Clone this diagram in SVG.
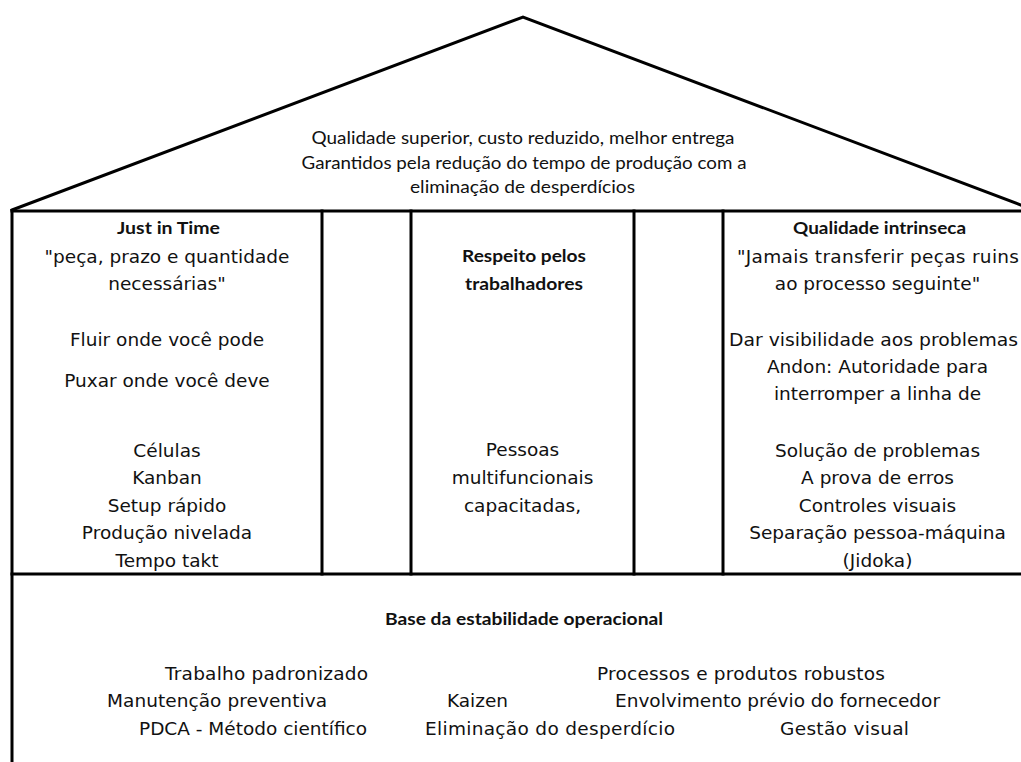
<svg xmlns="http://www.w3.org/2000/svg" width="1021" height="762" viewBox="0 0 1021 762">
<style>
.ln{stroke:#000;stroke-width:3;fill:none;stroke-linecap:square}
.t{font-family:"DejaVu Sans","Verdana",sans-serif;font-size:18.5px;fill:#111;text-anchor:middle}
.b{font-family:Lato,"Liberation Sans",sans-serif;font-size:17px;font-weight:bold;fill:#111;text-anchor:middle}
.r{font-family:Lato,"Liberation Sans",sans-serif;font-size:18px;fill:#111;text-anchor:middle}
.s{font-family:"DejaVu Sans","Verdana",sans-serif;font-size:18.5px;fill:#111}
</style>
<rect width="1021" height="762" fill="#fff"/>
<g id="roof">
<polyline class="ln" points="12,210 523,17 1034,210"/>
<text class="r" x="523" y="144" textLength="423" lengthAdjust="spacingAndGlyphs">Qualidade superior, custo reduzido, melhor entrega</text>
<text class="r" x="524" y="169" textLength="445" lengthAdjust="spacingAndGlyphs">Garantidos pela redução do tempo de produção com a</text>
<text class="r" x="522.5" y="193" textLength="225" lengthAdjust="spacingAndGlyphs">eliminação de desperdícios</text>
</g>
<g id="frame">
<line class="ln" x1="12" y1="211" x2="1034" y2="211"/>
<line class="ln" x1="12" y1="574" x2="1034" y2="574"/>
<line class="ln" x1="12" y1="211" x2="12" y2="765"/>
</g>
<g id="pillar-jit">
<line class="ln" x1="322" y1="211" x2="322" y2="574"/>
<text class="b" x="168.5" y="234" textLength="103" lengthAdjust="spacingAndGlyphs">Just in Time</text>
<text class="t" x="167" y="263">"peça, prazo e quantidade</text>
<text class="t" x="167" y="290">necessárias"</text>
<text class="t" x="167" y="346">Fluir onde você pode</text>
<text class="t" x="167" y="387">Puxar onde você deve</text>
<text class="t" x="167" y="457">Células</text>
<text class="t" x="167" y="484">Kanban</text>
<text class="t" x="167" y="512">Setup rápido</text>
<text class="t" x="167" y="539">Produção nivelada</text>
<text class="t" x="167" y="567">Tempo takt</text>
</g>
<g id="pillar-gap-1">
<line class="ln" x1="411" y1="211" x2="411" y2="574"/>
</g>
<g id="pillar-respeito">
<line class="ln" x1="634" y1="211" x2="634" y2="574"/>
<text class="b" x="524" y="262" textLength="124" lengthAdjust="spacingAndGlyphs">Respeito pelos</text>
<text class="b" x="524" y="290" textLength="118" lengthAdjust="spacingAndGlyphs">trabalhadores</text>
<text class="t" x="522.5" y="456">Pessoas</text>
<text class="t" x="522.5" y="484">multifuncionais</text>
<text class="t" x="522.5" y="512">capacitadas,</text>
</g>
<g id="pillar-gap-2">
<line class="ln" x1="723" y1="211" x2="723" y2="574"/>
</g>
<g id="pillar-qualidade">
<text class="b" x="879.5" y="234" textLength="173" lengthAdjust="spacingAndGlyphs">Qualidade intrinseca</text>
<text class="t" x="878" y="263" textLength="282">"Jamais transferir peças ruins</text>
<text class="t" x="877.5" y="290">ao processo seguinte"</text>
<text class="s" x="729" y="346" textLength="289" lengthAdjust="spacingAndGlyphs">Dar visibilidade aos problemas</text>
<text class="t" x="877.5" y="373">Andon: Autoridade para</text>
<text class="t" x="877.5" y="400">interromper a linha de</text>
<text class="t" x="877.5" y="457">Solução de problemas</text>
<text class="t" x="877.5" y="484">A prova de erros</text>
<text class="t" x="877.5" y="512">Controles visuais</text>
<text class="t" x="877.5" y="539">Separação pessoa-máquina</text>
<text class="t" x="877.5" y="567">(Jidoka)</text>
</g>
<g id="base">
<text class="b" x="524" y="625" textLength="278" lengthAdjust="spacingAndGlyphs">Base da estabilidade operacional</text>
<text class="s" x="165" y="680" textLength="203">Trabalho padronizado</text>
<text class="s" x="597" y="680" textLength="288">Processos e produtos robustos</text>
<text class="s" x="107" y="707" textLength="220">Manutenção preventiva</text>
<text class="s" x="447" y="707" textLength="61">Kaizen</text>
<text class="s" x="615" y="707" textLength="325">Envolvimento prévio do fornecedor</text>
<text class="s" x="139" y="735" textLength="228">PDCA - Método científico</text>
<text class="s" x="425" y="735" textLength="250">Eliminação do desperdício</text>
<text class="s" x="780" y="735" textLength="129">Gestão visual</text>
</g>
<g id="connectors"/>
</svg>
